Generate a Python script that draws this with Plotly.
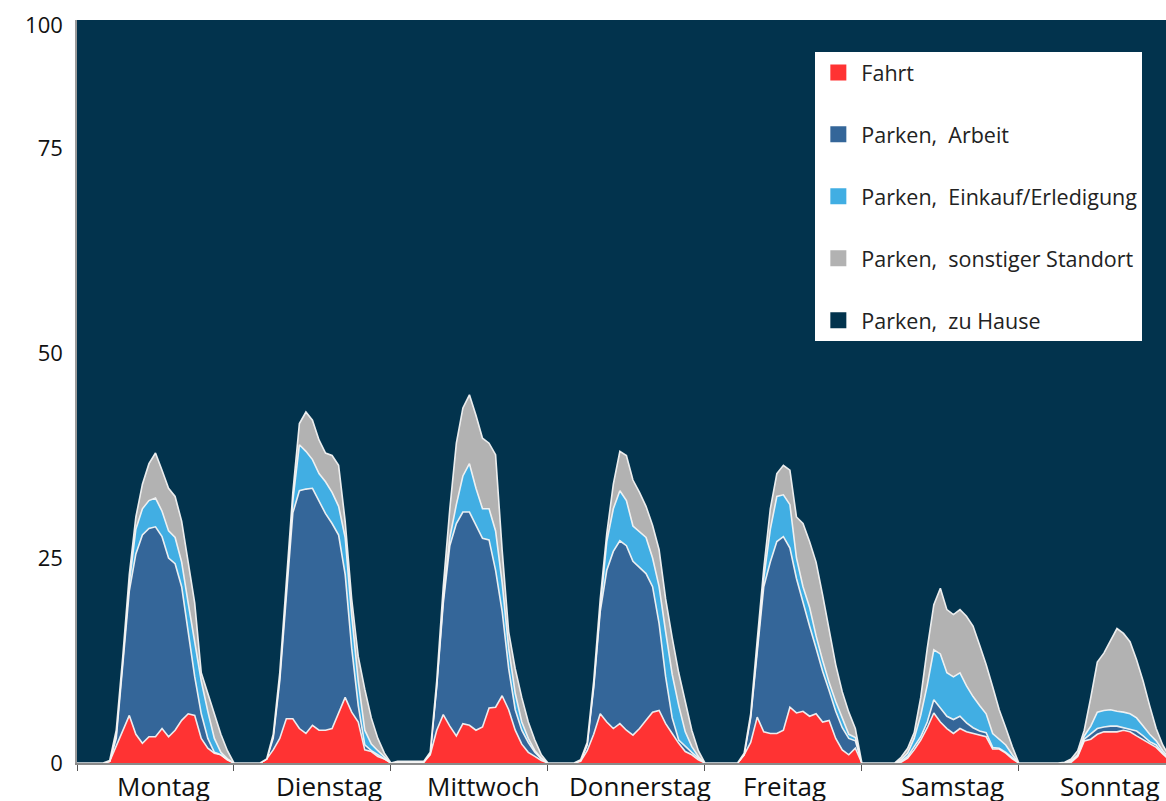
import numpy as np
import plotly.graph_objects as go

# ---------------- data (% of vehicles, hourly) ----------------
TAGE = ["Montag", "Dienstag", "Mittwoch", "Donnerstag", "Freitag", "Samstag", "Sonntag"]
TAG_LABEL_POS = [13.3, 38.5, 62.1, 86.1, 108.1, 133.9, 157.9]   # hour position of day labels

# cumulative upper edge of each layer (value at hours 0..23 of each day)
FAHRT_OBEN = [
    [0, 0, 0, 0, 0, 0.2, 2, 4, 5.8, 3.5, 2.4, 3.2, 3.2, 4.2, 3.2, 4, 5.2, 6, 5.8, 3, 1.8, 1.2, 1, 0.4],
    [0, 0, 0, 0, 0, 0.5, 1.6, 3, 5.4, 5.4, 4.2, 3.6, 4.6, 4, 4, 4.2, 6, 8, 6.2, 5, 1.6, 1.4, 0.8, 0.5],
    [0, 0.1, 0.1, 0.1, 0.1, 0.1, 1.0, 4, 5.9, 4.5, 3.3, 4.8, 4.6, 4, 4.4, 6.7, 6.8, 8.2, 6.5, 4, 2.3, 1.3, 0.8, 0.3],
    [0, 0, 0, 0, 0, 0.2, 1.5, 3.5, 6, 5, 4.2, 4.8, 4, 3.4, 4.2, 5.2, 6.2, 6.4, 4.8, 3.6, 2.4, 1.4, 1, 0.4],
    [0, 0, 0, 0, 0, 0, 1, 2.5, 5.6, 3.8, 3.6, 3.6, 4, 6.8, 6.1, 6.3, 5.7, 6, 5, 5.2, 3, 1.6, 1, 1.8],
    [0, 0, 0, 0, 0, 0, 0.1, 0.6, 1.6, 2.8, 4.3, 6.1, 5, 4.2, 3.6, 4.2, 3.8, 3.6, 3.4, 3.2, 1.7, 1.7, 1.2, 0.5],
    [0, 0, 0, 0, 0, 0, 0, 0.05, 0.1, 0.8, 2.7, 2.9, 3.5, 3.8, 3.8, 3.8, 4, 3.8, 3.3, 2.8, 2.3, 1.9, 1.1, 0.4],
]
ARBEIT_OBEN = [
    [0, 0, 0, 0, 0, 0.2, 3, 12, 21, 25.5, 27.8, 28.6, 28.8, 27.6, 25, 24.3, 21.5, 16, 10.5, 6, 3, 1.3, 1, 0.4],
    [0, 0, 0, 0, 0, 0.5, 3, 10, 20.5, 30.5, 33.2, 33.4, 33.5, 32, 30.4, 29.2, 27.8, 23, 14, 7, 2.2, 1.5, 1, 0.5],
    [0, 0.1, 0.1, 0.1, 0.1, 0.1, 1.1, 9.3, 19.5, 26.5, 29.2, 30.6, 30.6, 29, 27.4, 27.2, 23.5, 18.5, 11.5, 6.5, 4, 2.5, 1.3, 0.5],
    [0, 0, 0, 0, 0, 0.3, 2.2, 9.2, 18.5, 23.5, 25.8, 27.1, 26.5, 24.6, 23.9, 23.1, 21.5, 17, 10.5, 5.5, 2.8, 2, 1.3, 0.6],
    [0, 0, 0, 0, 0, 0, 1, 5.5, 13.5, 21.5, 24.5, 27, 27.6, 26.2, 22.5, 19.5, 16.7, 14, 11.2, 8.8, 6.3, 4.3, 3, 2.7],
    [0, 0, 0, 0, 0, 0, 0.2, 0.8, 2, 3.2, 5, 7.7, 6.7, 5.7, 5.3, 5.7, 4.9, 4.3, 3.9, 3.7, 1.9, 1.8, 1.3, 0.6],
    [0, 0, 0, 0, 0, 0, 0, 0.05, 0.2, 0.9, 2.9, 3.5, 4.2, 4.4, 4.5, 4.5, 4.3, 4.1, 3.9, 3.3, 2.6, 2.2, 1.2, 0.5],
]
EINKAUF_OBEN = [
    [0, 0, 0, 0, 0, 0.2, 3.5, 12.5, 22, 28.5, 31, 32, 32.3, 30.7, 28.3, 27.5, 24.5, 19.5, 14.5, 10, 6.3, 3, 1.3, 0.5],
    [0, 0, 0, 0, 0, 0.5, 3.3, 10.5, 21, 32, 38.8, 38, 37, 35.3, 34.3, 33, 31.3, 27.5, 18, 10, 4, 2.3, 1.5, 0.7],
    [0, 0.1, 0.1, 0.1, 0.1, 0.1, 1.2, 9.5, 20, 27.5, 31.5, 35, 36.5, 33.5, 31, 31, 28.3, 22, 14, 8.5, 5, 3, 1.5, 0.6],
    [0, 0, 0, 0, 0, 0.3, 2.3, 9.5, 19, 27, 31, 33.2, 32, 28.9, 28.2, 27.5, 25, 21.5, 16, 10.8, 7, 3.8, 2, 0.8],
    [0, 0, 0, 0, 0, 0, 1.1, 5.7, 14, 22.5, 28.5, 32.5, 32.7, 31.5, 25, 21.5, 19, 15.5, 12.5, 9.8, 7.5, 5.5, 3.5, 3.1],
    [0, 0, 0, 0, 0, 0, 0.4, 1.2, 3, 5.8, 9.5, 13.8, 13.3, 11, 10.5, 11, 9.4, 8.1, 7, 6, 3.6, 2.9, 2.2, 1],
    [0, 0, 0, 0, 0, 0, 0, 0.1, 0.3, 1.0, 3.3, 4.5, 6.2, 6.4, 6.5, 6.3, 6.2, 6, 5.5, 4.5, 3.5, 2.7, 1.5, 0.6],
]
SONSTIG_OBEN = [
    [0, 0, 0, 0, 0, 0.3, 4, 13, 23, 30, 34, 36.5, 37.8, 35.7, 33.5, 32.5, 29.5, 24.5, 19.5, 11, 8.5, 6, 3.5, 1.5],
    [0, 0, 0, 0, 0, 0.5, 3.5, 11, 22, 33, 41.4, 42.8, 41.8, 39.4, 37.8, 37.5, 36.3, 29.5, 20, 13, 9, 5.5, 3, 1.2],
    [0, 0.2, 0.2, 0.2, 0.2, 0.2, 1.3, 10, 21.5, 31, 39, 43.3, 44.9, 42.4, 39.6, 39, 37.6, 26, 16, 11.5, 8, 5, 2.8, 1],
    [0, 0, 0, 0, 0, 0.4, 2.5, 10, 20, 28, 34, 38, 37.5, 34.5, 33, 31.3, 29, 26, 20, 15.3, 11, 7.5, 4, 1.5],
    [0, 0, 0, 0, 0, 0, 1.2, 6, 15, 23.7, 31, 35.3, 36.3, 35.7, 30, 29.2, 27, 24.5, 20.5, 16.2, 12, 8.7, 6.2, 4.2],
    [0, 0, 0, 0, 0, 0, 0.7, 1.8, 3.7, 8, 14, 19.3, 21.3, 18.7, 18.1, 18.7, 17.9, 16.7, 14.4, 12, 9.3, 6.5, 4.3, 2],
    [0, 0, 0, 0, 0, 0, 0, 0.1, 0.5, 1.5, 4.0, 8, 12.3, 13.4, 15, 16.4, 15.8, 14.8, 12.6, 10, 7, 4.2, 2.2, 0.8],
]

NAMEN = ["Fahrt", "Parken,\u00a0 Arbeit", "Parken,\u00a0 Einkauf/Erledigung",
         "Parken,\u00a0 sonstiger Standort", "Parken,\u00a0 zu Hause"]
FARBEN = ["#FF3333", "#346699", "#41AEE3", "#B2B2B2", "#02334D"]

# ---------------- build layers ----------------
def flat(days):
    return np.array([v for d in days for v in d] + [0.0], dtype=float)

hours = np.arange(len(TAGE) * 24 + 1)
tops = [flat(FAHRT_OBEN), flat(ARBEIT_OBEN), flat(EINKAUF_OBEN), flat(SONSTIG_OBEN)]
layers = [tops[0]] + [tops[i] - tops[i - 1] for i in range(1, 4)] + [100.0 - tops[3]]

fig = go.Figure()
for i, (name, col, vals) in enumerate(zip(NAMEN, FARBEN, layers)):
    fig.add_trace(go.Scatter(
        x=hours, y=vals, name=name, stackgroup="one", mode="lines",
        line=dict(color="rgba(245,245,245,0.95)" if i < 4 else col, width=1.6 if i < 4 else 0),
        fillcolor=col, showlegend=False, hoverinfo="skip",
    ))

# legend entries (square swatches)
for i, (name, col) in enumerate(zip(NAMEN, FARBEN)):
    fig.add_trace(go.Scatter(
        x=[None], y=[None], mode="markers", name=name, legendgroup=f"g{i}",
        marker=dict(symbol="square", size=18, color=col), showlegend=True,
    ))

for lab, xp in zip(TAGE, TAG_LABEL_POS):
    fig.add_annotation(x=xp, y=0, xref="x", yref="y", text=lab, showarrow=False,
                       yanchor="top", yshift=-3, font=dict(size=26, color="#111"))

fig.update_layout(
    width=1166, height=801,
    margin=dict(l=77, r=0, t=20, b=38),
    paper_bgcolor="white", plot_bgcolor="#02334D",
    font=dict(family="Open Sans, Noto Sans, sans-serif", color="#111"),
    legend=dict(x=0.678, y=0.957, xanchor="left", yanchor="top",
                bgcolor="white", borderwidth=0, traceorder="grouped",
                tracegroupgap=31, font=dict(size=21.5, color="#222"),
                itemsizing="trace", itemwidth=36, entrywidth=345, entrywidthmode="pixels"),
    xaxis=dict(range=[0, 166.5], tickvals=[0, 24, 48, 72, 96, 120, 144],
               showticklabels=False, ticks="outside", ticklen=6, tickcolor="#555",
               showline=True, linecolor="#8a8a8a", linewidth=1.5, showgrid=False, zeroline=False),
    yaxis=dict(range=[0, 90.6], tickvals=[0, 25, 50, 75, 90], ticktext=["0", "25", "50", "75", "100"],
               showline=True, linecolor="#9a9a9a", linewidth=1.5, showgrid=False, zeroline=False,
               ticks="", ticklabelstandoff=8, tickfont=dict(size=22, color="#111")),
    showlegend=True,
)

# remove the default 8px page margin so the figure fills the window exactly
fig.write_html("out.html", config={"displayModeBar": False},
               post_script="document.body.style.margin='0';document.body.style.overflow='hidden';")
